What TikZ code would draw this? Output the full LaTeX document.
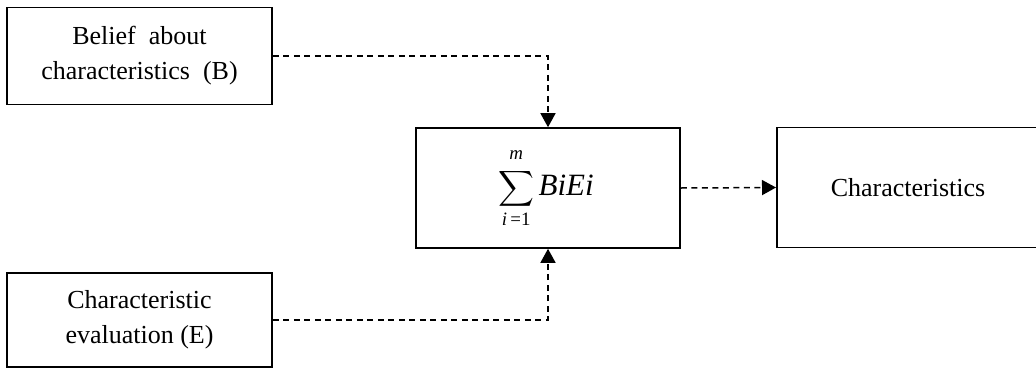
\documentclass[tikz,border=0pt]{standalone}
\usepackage{fix-cm}
\usepackage{amsmath}
\usepackage{fontspec}
\setmainfont{Liberation Serif}
\usetikzlibrary{arrows.meta}
\begin{document}
\begin{tikzpicture}[x=1pt,y=-1pt,
  box/.style={draw, line width=1.6pt, rectangle, inner sep=0pt, align=center,
    font=\fontsize{26}{35}\selectfont},
  flow/.style={line width=1.5pt, dash pattern=on 6pt off 4.5pt,
    -{Triangle[length=14pt,width=15pt]}}
]
\useasboundingbox (0,0) rectangle (1036,370);

% input boxes
\node[box, minimum width=265pt, minimum height=97pt] (bel) at (139.5,56) {Belief\ \ about\\characteristics\ \ (B)};
\node[box, minimum width=265pt, minimum height=94pt] (eva) at (139.5,320) {Characteristic\\evaluation (E)};

% combination box
\node[box, minimum width=264pt, minimum height=120pt] (sum) at (548,188) {};
\node[font=\fontsize{27}{30}\selectfont, inner sep=0pt] (frm) at ([xshift=-2pt]sum.center)
  {$\displaystyle\sum_{\text{\itshape i}\,\text{=1}}^{\text{\raisebox{4pt}{\itshape m}}}$\,\textit{\fontsize{31}{34}\selectfont BiEi}};

% output box (runs past the right margin)
\node[box, minimum width=268pt, minimum height=120pt, anchor=west] (res) at (776,187.5) {};
\node[font=\fontsize{26}{30}\selectfont, inner sep=0pt] (lab) at (908,188) {Characteristics};

% connectors
\draw[flow] (bel.east) -| (sum.north);
\draw[flow] (eva.east) -| (sum.south);
\draw[flow] (sum.east) -- (res.west);
\end{tikzpicture}
\end{document}
